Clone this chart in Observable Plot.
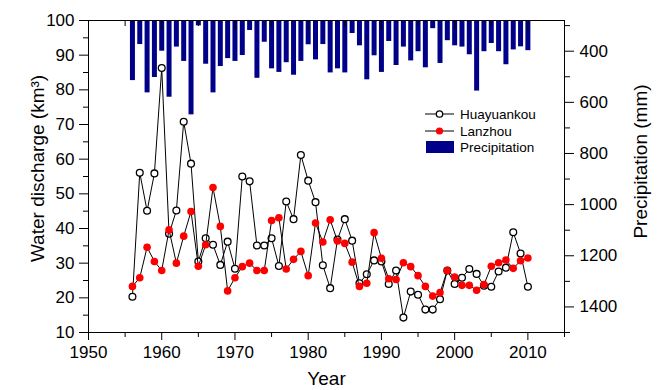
<!DOCTYPE html>
<html><head><meta charset="utf-8">
<script src="https://cdn.jsdelivr.net/npm/d3@7"></script>
<script src="https://cdn.jsdelivr.net/npm/@observablehq/plot@0.6"></script>
<style>
body{margin:0;background:#fff;}
#wrap{position:relative;width:664px;height:390px;font-family:"Liberation Sans",Arial,sans-serif;}
#wrap > svg{position:absolute;left:0;top:0;}
</style></head><body><div id="wrap"></div>
<script>
// ---- data ----
const years = [1956,1957,1958,1959,1960,1961,1962,1963,1964,1965,1966,1967,1968,1969,1970,1971,1972,1973,1974,1975,1976,1977,1978,1979,1980,1981,1982,1983,1984,1985,1986,1987,1988,1989,1990,1991,1992,1993,1994,1995,1996,1997,1998,1999,2000,2001,2002,2003,2004,2005,2006,2007,2008,2009,2010];
const huayuankou = [20.3,56.1,45.1,55.9,86.3,38.5,45.2,70.8,58.7,30.5,37.2,35.3,29.5,36.2,28.4,55,53.6,35.1,35.1,37.2,29.2,47.8,42.7,61.2,53.8,47.6,29.4,22.8,36.8,42.7,36.5,24.2,26.8,30.8,30.5,24,27.9,14.3,21.8,20.9,16.6,16.6,19.6,27.9,24,25.8,28.3,26.9,23.5,23.2,27.6,28.7,38.9,32.8,23.2];
const lanzhou = [23.3,25.8,34.6,30.5,27.9,39.6,30,37.8,44.9,29.1,35.3,51.8,40.6,22,25.8,29,30,27.9,27.9,42.3,43.1,28.3,31.1,33.4,26.4,41.6,36.1,42.5,36.4,35.7,30.3,23.3,24.2,38.8,31.4,25.5,25.3,30.1,29,26.4,23.3,20.5,21.5,27.9,26,23.6,23.6,22.2,23.8,29.1,30.1,30.9,28.5,30.7,31.5];
const precipitation = [515,374,563,503,400,580,384,440,649,301,451,563,460,429,440,417,319,506,365,469,483,445,494,440,375,434,374,485,469,485,331,379,512,418,483,362,456,384,438,402,465,312,448,359,379,384,414,556,402,370,402,453,395,383,398];

const xDomain = [1950, 2015];
const xMajor = [1950,1960,1970,1980,1990,2000,2010];
const xMinor = [1955,1965,1975,1985,1995,2005,2015];
const yDomain = [10, 100];
const yMajor = [10,20,30,40,50,60,70,80,90,100];
const yMinor = [15,25,35,45,55,65,75,85,95];
const pDomain = [280, 1500];
const pMajor = [400,600,800,1000,1200,1400];
const pMinor = [300,500,700,900,1100,1300,1500];

const seriesNames = ["Huayuankou","Lanzhou","Precipitation"];
const yTitle = "Water discharge (km³)";
const pTitle = "Precipitation (mm)";
const xTitle = "Year";

// ---- layout ----
const W = 664, H = 390;
const M = {left: 88, right: 100, top: 20, bottom: 58};
const font = "'Liberation Sans', Arial, sans-serif";
const BAR = "#000088";

const hData = years.map((year, i) => ({year, v: huayuankou[i]}));
const lData = years.map((year, i) => ({year, v: lanzhou[i]}));
const pData = years.map((year, i) => ({year, p: precipitation[i]}));
const blank = () => "";
const plain = d => String(d);

const back = Plot.plot({
  width: W, height: H,
  marginLeft: M.left, marginRight: M.right, marginTop: M.top, marginBottom: M.bottom,
  style: {fontFamily: font, fontSize: "17px", color: "black", background: "white", overflow: "visible"},
  x: {domain: xDomain, axis: null},
  y: {domain: pDomain, reverse: true},
  marks: [
    Plot.ruleX(pData, {x: "year", y1: () => pDomain[0], y2: "p", stroke: BAR, strokeWidth: 5}),
    Plot.axisY({anchor: "right", ticks: pMajor, tickSize: 9, tickPadding: 6, tickFormat: plain, label: null}),
    Plot.axisY({anchor: "right", ticks: pMinor, tickSize: 5, tickFormat: blank, label: null}),
    Plot.text([pTitle], {text: d => d, frameAnchor: "right", dx: 76, dy: -15, rotate: -90, fontSize: 19, lineAnchor: "middle", textAnchor: "middle"})
  ]
});

const front = Plot.plot({
  width: W, height: H,
  marginLeft: M.left, marginRight: M.right, marginTop: M.top, marginBottom: M.bottom,
  style: {fontFamily: font, fontSize: "17px", color: "black", background: "transparent", overflow: "visible"},
  x: {domain: xDomain},
  y: {domain: yDomain},
  marks: [
    Plot.axisX({anchor: "bottom", ticks: xMajor, tickSize: 8, tickPadding: 5, tickFormat: plain, label: null}),
    Plot.axisX({anchor: "bottom", ticks: xMinor, tickSize: 5, tickFormat: blank, label: null}),
    Plot.axisX({anchor: "top", ticks: xMajor, tickSize: 9, dy: 9, tickFormat: blank, label: null}),
    Plot.axisX({anchor: "top", ticks: xMinor, tickSize: 5, dy: 5, tickFormat: blank, label: null}),
    Plot.axisY({anchor: "left", ticks: yMajor, tickSize: 9, tickPadding: 5, label: null}),
    Plot.axisY({anchor: "left", ticks: yMinor, tickSize: 5, tickFormat: blank, label: null}),
    Plot.frame({stroke: "black", strokeWidth: 1}),
    Plot.line(hData, {x: "year", y: "v", stroke: "black", strokeWidth: 1}),
    Plot.dot(hData, {x: "year", y: "v", r: 3.4, fill: "white", stroke: "black", strokeWidth: 1.3}),
    Plot.line(lData, {x: "year", y: "v", stroke: "black", strokeWidth: 1}),
    Plot.dot(lData, {x: "year", y: "v", r: 3.8, fill: "#ff0000"}),
    Plot.text([xTitle], {text: d => d, frameAnchor: "bottom", dy: 46, fontSize: 19, lineAnchor: "middle"}),
    Plot.text([yTitle], {text: d => d, frameAnchor: "left", dx: -51, dy: -8, rotate: -90, fontSize: 19, lineAnchor: "middle", textAnchor: "middle"})
  ]
});

const wrap = document.getElementById("wrap");
wrap.appendChild(back);
wrap.appendChild(front);

// ---- legend ----
const ns = "http://www.w3.org/2000/svg";
const leg = document.createElementNS(ns, "svg");
leg.setAttribute("width", W); leg.setAttribute("height", H);
leg.style.position = "absolute"; leg.style.left = "0"; leg.style.top = "0";
const L = {x0: 425, x1: 454, tx: 460, rows: [114, 131, 147], fs: 13.5};
function el(tag, attrs, parent) { const e = document.createElementNS(ns, tag); for (const k in attrs) e.setAttribute(k, attrs[k]); parent.appendChild(e); return e; }
seriesNames.forEach((name, i) => {
  const y = L.rows[i];
  if (i < 2) {
    el("line", {x1: L.x0, x2: L.x1, y1: y, y2: y, stroke: "black", "stroke-width": 1}, leg);
    if (i === 0) el("circle", {cx: (L.x0 + L.x1) / 2, cy: y, r: 3.2, fill: "white", stroke: "black", "stroke-width": 1.3}, leg);
    else el("circle", {cx: (L.x0 + L.x1) / 2, cy: y, r: 3.6, fill: "#ff0000"}, leg);
  } else {
    el("rect", {x: L.x0 + 1, y: y - 6, width: L.x1 - L.x0 - 1, height: 12, fill: BAR}, leg);
  }
  const t = el("text", {x: L.tx, y: y, "dominant-baseline": "central", "font-family": font, "font-size": L.fs, fill: "black"}, leg);
  t.textContent = name;
});
wrap.appendChild(leg);
</script>
</body></html>
